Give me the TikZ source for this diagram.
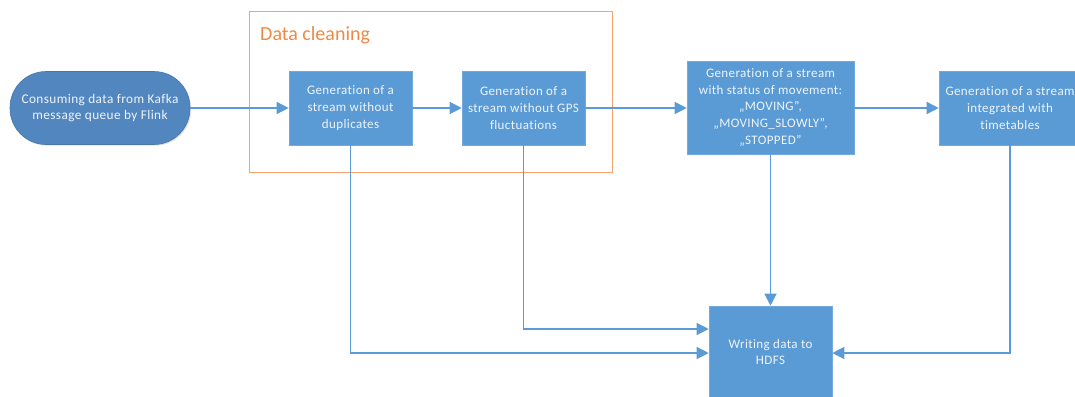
\documentclass[tikz,border=0pt]{standalone}
\usepackage{fontspec}
\setmainfont{Carlito}
\newfontfamily\boxfont[LetterSpace=3,Ligatures=NoCommon,RawFeature=-liga]{Carlito}
\usetikzlibrary{arrows.meta,shadows}
\definecolor{boxblue}{HTML}{5B9BD5}
\definecolor{startblue}{HTML}{5286BF}
\definecolor{startedge}{HTML}{4A78AA}
\definecolor{cleanorange}{HTML}{F4A36C}
\definecolor{cleantext}{HTML}{EF8A45}
\definecolor{boxtext}{HTML}{EEF4FA}
\tikzset{
  stepbox/.style={rectangle, fill=boxblue, draw=boxblue!85!white, line width=0.6pt,
    text=boxtext, align=center, font=\boxfont\fontsize{13}{16.7}\selectfont, inner sep=0pt,
    drop shadow={shadow xshift=1.2pt, shadow yshift=-1.2pt, opacity=0.18, fill=black!60}},
  startnode/.style={rectangle, rounded corners=36pt, fill=startblue, draw=startedge, line width=0.6pt,
    text=boxtext, align=center, font=\boxfont\fontsize{13.3}{16.7}\selectfont, inner sep=0pt,
    drop shadow={shadow xshift=1.2pt, shadow yshift=-1.2pt, opacity=0.18, fill=black!60}},
  flow/.style={draw=boxblue, line width=1.3pt, -{Triangle[length=12pt,width=12pt]}},
}
\begin{document}
\begin{tikzpicture}[x=1pt,y=-1pt]
  \clip (0,0) rectangle (1075,396);
  \fill[white] (0,0) rectangle (1075,396);

  % data cleaning group
  \node[draw=cleanorange, line width=1pt, minimum width=363pt, minimum height=160pt, inner sep=0pt]
    (clean) at (430.5,92) {};
  \node[anchor=base west, text=cleantext, font=\fontsize{20}{24}\selectfont, inner sep=0pt]
    (cleanlabel) at (260,41) {Data cleaning};

  % processing steps
  \node[startnode, minimum width=180pt, minimum height=73pt] (kafka) at (100,108)
    {Consuming data from Kafka\\message queue by Flink};
  \node[stepbox, minimum width=123pt, minimum height=74pt] (dedup) at (350.5,108)
    {Generation of a\\stream without\\duplicates};
  \node[stepbox, minimum width=123pt, minimum height=74pt] (gps) at (523.5,108)
    {Generation of a\\stream without GPS\\fluctuations};
  \node[stepbox, minimum width=167pt, minimum height=93pt] (status) at (770.5,107.5)
    {Generation of a stream\\with status of movement:\\„MOVING”,\\„MOVING\_SLOWLY”,\\„STOPPED”};
  \node[stepbox, minimum width=142pt, minimum height=74pt] (timetab) at (1010,108)
    {Generation of a stream\\integrated with\\timetables};
  \node[stepbox, minimum width=123pt, minimum height=92pt] (hdfs) at (770.5,352)
    {Writing data to\\HDFS};

  % main flow
  \draw[flow] (kafka.east) -- (dedup.west);
  \draw[flow] (dedup.east) -- (gps.west);
  \draw[flow] (gps.east) -- (status.west |- gps.east);
  \draw[flow] (status.east |- timetab.west) -- (timetab.west);

  % storage branches
  \draw[flow] (dedup.south) |- (hdfs.west |- 0,353);
  \draw[flow] (gps.south) |- (hdfs.west |- 0,329);
  \draw[flow] (status.south) -- (hdfs.north);
  \draw[flow] (timetab.south) |- (hdfs.east |- 0,353);
\end{tikzpicture}
\end{document}
